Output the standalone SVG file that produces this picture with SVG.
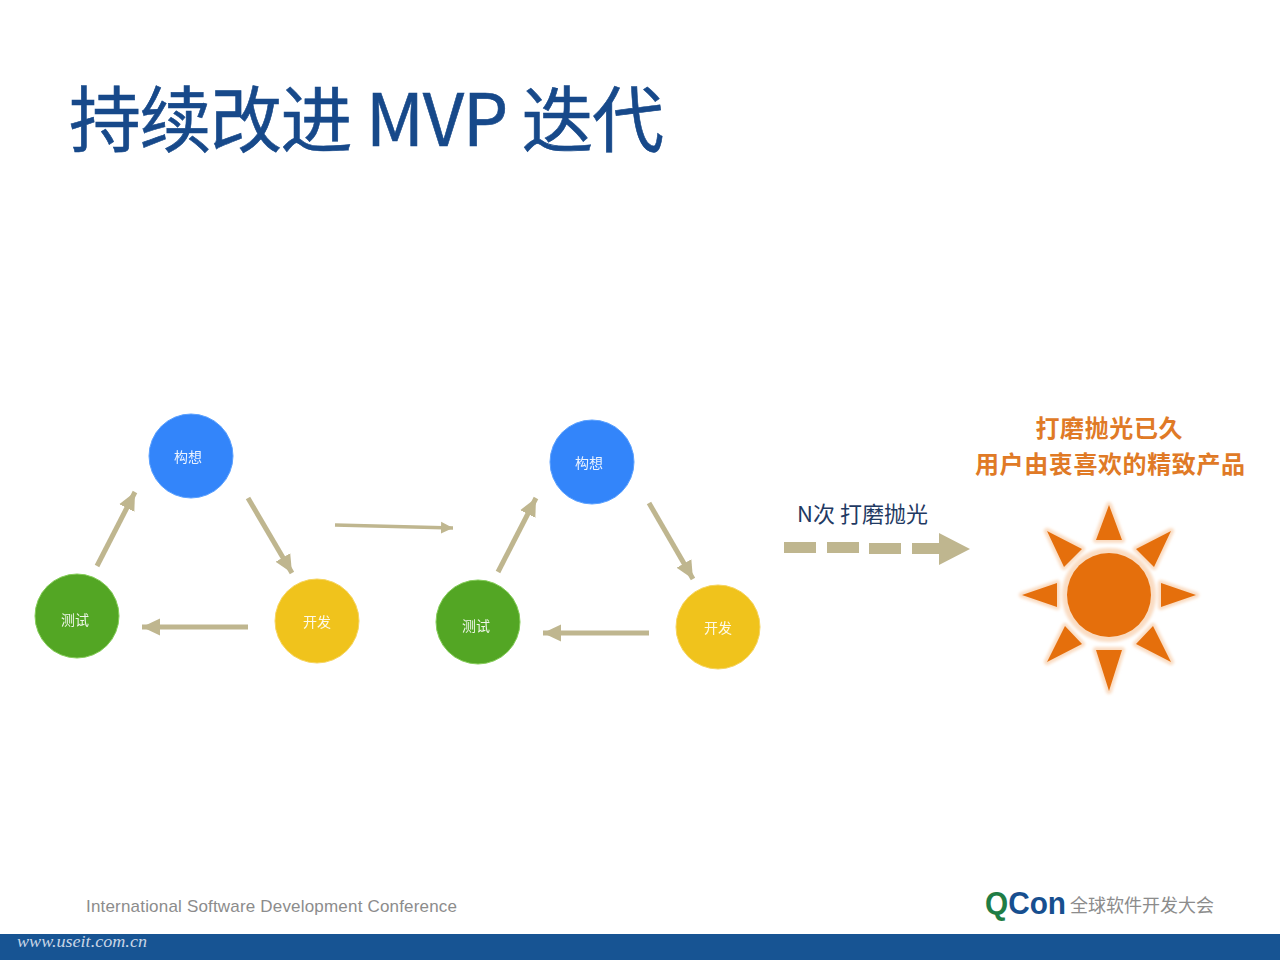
<svg xmlns="http://www.w3.org/2000/svg" width="1280" height="960" viewBox="0 0 1280 960">
<defs>
<marker id="ah" markerUnits="userSpaceOnUse" markerWidth="20" markerHeight="18" refX="18" refY="9" orient="auto"><path d="M0 0.5L18 9L0 17.5Z" fill="#bfb68f"/></marker>
<marker id="ahs" markerUnits="userSpaceOnUse" markerWidth="14" markerHeight="14" refX="12" refY="7" orient="auto"><path d="M0 1L12 7L0 13Z" fill="#bfb68f"/></marker>
<filter id="soft" x="-20%" y="-20%" width="140%" height="140%"><feGaussianBlur stdDeviation="1.4"/></filter>
</defs>
<style>
text{font-family:"Noto Sans CJK SC","Noto Sans",sans-serif}
.n{fill:#fff;font-size:14px;text-anchor:middle;opacity:.9}
.blue{fill:#3385fa;stroke:#5aa0ff;stroke-width:1}
.yellow{fill:#f0c31c;stroke:#f6d45e;stroke-width:1}
.green{fill:#53a624;stroke:#84cc58;stroke-width:1}
.c{fill:none;stroke:#bfb68f;stroke-width:5}
.thin{stroke-width:3.5}
.ray{fill:#e56f0c}
.halo{fill:#fadcc2;stroke:#fadcc2;stroke-width:6;stroke-linejoin:round}
</style>
<rect width="1280" height="960" fill="#fff"/>
<text x="69" y="146" font-size="72" fill="#17498a" stroke="#17498a" stroke-width="0.6" textLength="595" lengthAdjust="spacing">持续改进 MVP 迭代</text>
<g id="connectors">
<path class="c" d="M248 498L292 573" marker-end="url(#ah)"/>
<path class="c" d="M248 627H142" marker-end="url(#ah)"/>
<path class="c" d="M97 566L135 492" marker-end="url(#ah)"/>
<path class="c thin" d="M335 525L453 528" marker-end="url(#ahs)"/>
<path class="c" d="M649 503L693 579" marker-end="url(#ah)"/>
<path class="c" d="M649 633H543" marker-end="url(#ah)"/>
<path class="c" d="M498 572L536 498" marker-end="url(#ah)"/>
<path fill="#bfb68f" d="M784 542H816V553H784ZM827 542H859V553H827ZM869 543H901V554H869ZM912 543H939V533L970 549L939 565V554H912Z"/>
</g>
<g id="n1-idea"><circle class="blue" cx="191" cy="456" r="42"/><text class="n" x="188" y="462">构想</text></g>
<g id="n1-dev"><circle class="yellow" cx="317" cy="621" r="42"/><text class="n" x="317" y="627">开发</text></g>
<g id="n1-test"><circle class="green" cx="77" cy="616" r="42"/><text class="n" x="75" y="625">测试</text></g>
<g id="n2-idea"><circle class="blue" cx="592" cy="462" r="42"/><text class="n" x="589" y="468">构想</text></g>
<g id="n2-dev"><circle class="yellow" cx="718" cy="627" r="42"/><text class="n" x="718" y="633">开发</text></g>
<g id="n2-test"><circle class="green" cx="478" cy="622" r="42"/><text class="n" x="476" y="631">测试</text></g>
<g id="label-n"><text x="797" y="522" font-size="22" fill="#1f3a63" textLength="131" lengthAdjust="spacing">N次 打磨抛光</text></g>
<g id="result-text" font-size="24" font-weight="700" fill="#e07a26" text-anchor="middle">
<text x="1109" y="437" textLength="147">打磨抛光已久</text>
<text x="1110" y="473" textLength="270">用户由衷喜欢的精致产品</text>
</g>
<g id="sun">
<g class="halo" filter="url(#soft)">
<circle cx="1109" cy="595" r="44"/>
<path d="M1109 505L1122 540H1096ZM1109 691L1122 650H1096ZM1022 595L1057 583V607ZM1196 595L1161 583V607ZM1047 531L1082 549L1064 567ZM1171 531L1136 549L1154 567ZM1047 662L1065 626L1082 644ZM1171 662L1153 626L1136 644Z"/>
</g>
<circle class="ray" cx="1109" cy="595" r="42"/>
<path class="ray" d="M1109 505L1122 540H1096ZM1109 691L1122 650H1096ZM1022 595L1057 583V607ZM1196 595L1161 583V607ZM1047 531L1082 549L1064 567ZM1171 531L1136 549L1154 567ZM1047 662L1065 626L1082 644ZM1171 662L1153 626L1136 644Z"/>
</g>
<g id="footer">
<text x="86" y="912" font-size="17" fill="#8c8c8c" style="font-family:'Liberation Sans',sans-serif" textLength="371">International Software Development Conference</text>
<text x="985" y="914" font-size="31" font-weight="700" style="font-family:'Liberation Sans',sans-serif" textLength="81" lengthAdjust="spacingAndGlyphs"><tspan fill="#1f7d45">Q</tspan><tspan fill="#174f8f">Con</tspan></text>
<text x="1070" y="912" font-size="18" fill="#8c8c8c" textLength="144">全球软件开发大会</text>
<rect y="934" width="1280" height="26" fill="#175493"/>
<text x="17" y="947" font-size="17" font-style="italic" fill="#c9d6e6" style="font-family:'Liberation Serif',serif" textLength="130" lengthAdjust="spacingAndGlyphs">www.useit.com.cn</text>
</g>
</svg>
